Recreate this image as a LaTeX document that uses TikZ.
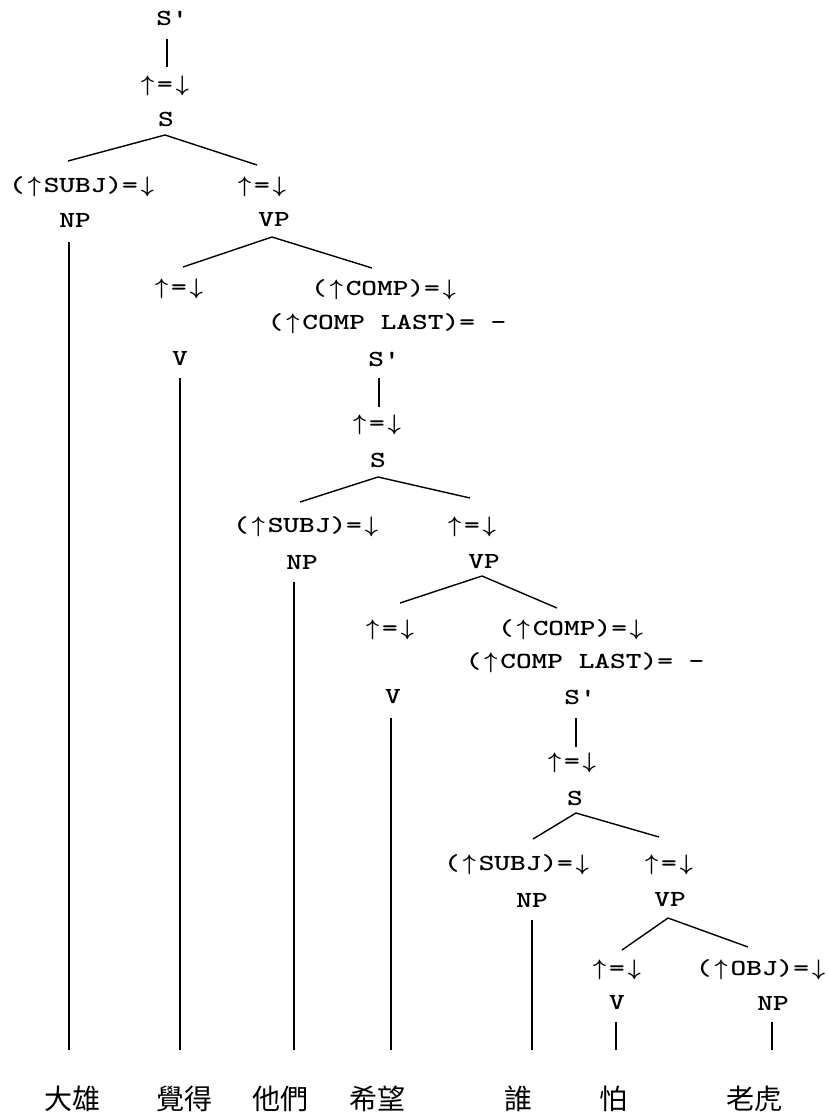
\documentclass[tikz,border=0pt]{standalone}
\usepackage{fontspec}
\usepackage{graphicx}
\newfontfamily\cjk{Noto Sans CJK TC}
\newcommand{\labfont}{\ttfamily\bfseries\fontsize{23}{25}\selectfont}
\newcommand{\T}[1]{\scalebox{1.3}[1]{#1}}
\newcommand{\Up}{\makebox[19pt]{\resizebox*{13pt}{20pt}{\boldmath$\uparrow$}}}
\newcommand{\Dn}{\makebox[19pt]{\resizebox*{13pt}{20pt}{\boldmath$\downarrow$}}}
\newcommand{\Hd}{\Up\T{=}\Dn}
\begin{document}
\begin{tikzpicture}[x=1pt,y=-1pt,
  lab/.style={font=\labfont, inner sep=0pt, anchor=center},
  word/.style={font=\cjk\fontsize{28}{30}\selectfont, inner sep=0pt, anchor=center},
  edge/.style={line width=1.4pt}]
\useasboundingbox[fill=white] (0,0) rectangle (828,1119);
% level 1
\node[lab] (sp1) at (172,18) {\T{S'}};
\node[lab] (a1) at (165,86) {\Hd};
\node[lab] (s1) at (166,119) {\T{S}};
\node[lab] (subj1) at (83,187) {\T{(}\Up\T{SUBJ)=}\Dn};
\node[lab] (h1) at (262,187) {\Hd};
\node[lab] (np1) at (75,220) {\T{NP}};
\node[lab] (vp1) at (274,220) {\T{VP}};
\node[lab] (h2) at (179,289) {\Hd};
\node[lab] (comp1) at (385,290) {\T{(}\Up\T{COMP)=}\Dn};
\node[lab] (last1) at (387,324) {\T{(}\Up\T{COMP LAST)= -}};
\node[lab] (v1) at (180,359) {\T{V}};
\node[lab] (sp2) at (384,359) {\T{S'}};
% level 2
\node[lab] (a2) at (377,425) {\Hd};
\node[lab] (s2) at (378,460) {\T{S}};
\node[lab] (subj2) at (307,527) {\T{(}\Up\T{SUBJ)=}\Dn};
\node[lab] (h3) at (472,527) {\Hd};
\node[lab] (np2) at (302,562) {\T{NP}};
\node[lab] (vp2) at (484,562) {\T{VP}};
\node[lab] (h4) at (390,630) {\Hd};
\node[lab] (comp2) at (572,630) {\T{(}\Up\T{COMP)=}\Dn};
\node[lab] (last2) at (585,663) {\T{(}\Up\T{COMP LAST)= -}};
\node[lab] (v2) at (393,697) {\T{V}};
\node[lab] (sp3) at (580,697) {\T{S'}};
% level 3
\node[lab] (a3) at (572,763) {\Hd};
\node[lab] (s3) at (575,798) {\T{S}};
\node[lab] (subj3) at (518,865) {\T{(}\Up\T{SUBJ)=}\Dn};
\node[lab] (h5) at (669,865) {\Hd};
\node[lab] (np3) at (532,900) {\T{NP}};
\node[lab] (vp3) at (670,900) {\T{VP}};
\node[lab] (h6) at (617,970) {\Hd};
\node[lab] (obj) at (762,970) {\T{(}\Up\T{OBJ)=}\Dn};
\node[lab] (v3) at (617,1003) {\T{V}};
\node[lab] (np4) at (773,1003) {\T{NP}};
% words
\node[word] (w1) at (72,1099) {大雄};
\node[word] (w2) at (184,1099) {覺得};
\node[word] (w3) at (280,1099) {他們};
\node[word] (w4) at (377,1099) {希望};
\node[word] (w5) at (518,1099) {誰};
\node[word] (w6) at (613,1099) {怕};
\node[word] (w7) at (754,1099) {老虎};
% connector end points
\coordinate (sp1b) at (167,39); \coordinate (a1t) at (167,67);
\coordinate (s1b) at (165,135); \coordinate (subj1t) at (68,161); \coordinate (h1t) at (257,165);
\coordinate (np1b) at (69,242); \coordinate (w1t) at (69,1050);
\coordinate (vp1b) at (272,237); \coordinate (h2t) at (183,267); \coordinate (comp1t) at (372,268);
\coordinate (v1b) at (180,378); \coordinate (w2t) at (180,1050);
\coordinate (sp2b) at (379,378); \coordinate (a2t) at (379,407);
\coordinate (s2b) at (378,477); \coordinate (subj2t) at (300,502); \coordinate (h3t) at (470,498);
\coordinate (np2b) at (294,582); \coordinate (w3t) at (294,1050);
\coordinate (vp2b) at (482,576); \coordinate (h4t) at (400,603); \coordinate (comp2t) at (557,608);
\coordinate (v2b) at (391,718); \coordinate (w4t) at (391,1050);
\coordinate (sp3b) at (576,718); \coordinate (a3t) at (576,747);
\coordinate (s3b) at (576,813); \coordinate (subj3t) at (533,839); \coordinate (h5t) at (659,837);
\coordinate (np3b) at (532,920); \coordinate (w5t) at (532,1050);
\coordinate (vp3b) at (668,918); \coordinate (h6t) at (622,950); \coordinate (objt) at (748,947);
\coordinate (v3b) at (616,1022); \coordinate (w6t) at (616,1050);
\coordinate (np4b) at (772,1022); \coordinate (w7t) at (772,1050);
% connectors
\draw[edge] (sp1b) -- (a1t);
\draw[edge] (subj1t) -- (s1b) -- (h1t);
\draw[edge] (np1b) -- (w1t);
\draw[edge] (h2t) -- (vp1b) -- (comp1t);
\draw[edge] (v1b) -- (w2t);
\draw[edge] (sp2b) -- (a2t);
\draw[edge] (subj2t) -- (s2b) -- (h3t);
\draw[edge] (np2b) -- (w3t);
\draw[edge] (h4t) -- (vp2b) -- (comp2t);
\draw[edge] (v2b) -- (w4t);
\draw[edge] (sp3b) -- (a3t);
\draw[edge] (subj3t) -- (s3b) -- (h5t);
\draw[edge] (np3b) -- (w5t);
\draw[edge] (h6t) -- (vp3b) -- (objt);
\draw[edge] (v3b) -- (w6t);
\draw[edge] (np4b) -- (w7t);
\end{tikzpicture}
\end{document}
